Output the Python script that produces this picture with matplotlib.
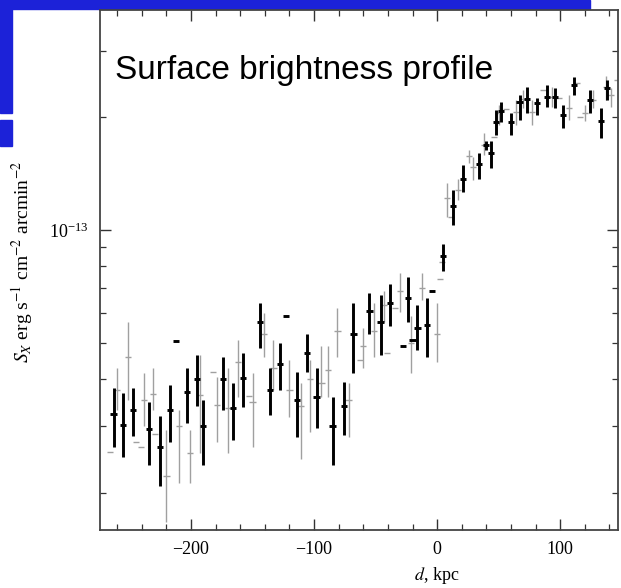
import matplotlib
matplotlib.use('Agg')
import matplotlib.pyplot as plt
import numpy as np
from matplotlib.patches import Rectangle
from matplotlib.ticker import MultipleLocator, FixedLocator, NullFormatter

# perfil de brillo superficial, valores en 1e-14 erg s^-1 cm^-2 arcmin^-2
# serie gruesa (negra)
thick_d = [-263, -255, -247, -234, -225, -217, -212, -203, -195, -190, -174, -166, -158,
           -144, -136, -128, -123, -114, -106, -98, -85, -76, -68, -55, -46, -38, -28,
           -24, -20, -16, -8, -4, 5, 13, 21, 34, 40, 44, 48, 52, 60, 67, 73, 81, 89,
           96, 102, 111, 124, 133, 138]
thick_s = [3.24, 3.03, 3.32, 2.96, 2.65, 3.32, 5.07, 3.7, 4.0, 3.0, 4.0, 3.36, 4.04,
           5.7, 3.75, 4.4, 5.9, 3.53, 4.7, 3.6, 3.0, 3.4, 5.3, 6.1, 5.7, 6.4, 4.9,
           6.6, 5.1, 5.5, 5.6, 6.9, 8.5, 11.6, 13.7, 15.0, 16.8, 16.0, 19.4, 20.7, 19.4,
           21.9, 22.3, 21.8, 22.6, 22.6, 20.2, 24.3, 22.2, 19.5, 23.9]
thick_hi = [3.8, 3.68, 3.8, 3.49, 3.2, 3.87, 5.07, 4.3, 4.65, 3.53, 4.6, 3.92, 4.7,
            6.4, 4.3, 5.0, 5.9, 4.2, 5.3, 4.3, 3.6, 3.94, 6.4, 6.8, 6.7, 7.2, 4.9,
            7.5, 5.1, 6.3, 6.6, 6.9, 9.2, 12.8, 14.9, 16.0, 17.3, 17.3, 20.8, 21.9, 20.5,
            22.9, 24.0, 22.4, 24.3, 23.9, 21.5, 25.5, 23.6, 21.1, 25.1]
thick_lo = [2.65, 2.49, 2.83, 2.37, 2.08, 2.72, 5.07, 3.07, 3.4, 2.37, 3.32, 2.76, 3.38,
            4.85, 3.22, 3.75, 5.9, 2.81, 4.2, 2.97, 2.37, 2.85, 4.17, 5.3, 4.65, 5.56, 4.9,
            5.7, 5.1, 4.8, 4.6, 6.9, 7.8, 10.3, 12.6, 13.7, 16.3, 14.6, 17.9, 19.4, 17.9,
            19.6, 20.5, 20.2, 21.2, 21.1, 18.7, 22.9, 20.5, 17.6, 22.2]

# serie fina (gris)
thin_d = [-266, -260, -251, -245, -241, -238, -231, -229, -220, -210, -201, -193, -182,
          -179, -170, -162, -153, -150, -141, -133, -120, -111, -103, -94, -89, -81, -72,
          -63, -60, -51, -43, -41, -34, -30, -21, -12, 0, 2, 4, 8, 11, 17, 26, 29, 38,
          46, 50, 56, 64, 70, 77, 86, 93, 99, 107, 114, 116, 120, 127, 137, 141, 146]
thin_s = [2.57, 3.75, 4.6, 2.73, 2.65, 3.53, 3.66, 2.87, 2.22, 3.0, 2.55, 3.64, 4.2,
          3.42, 3.36, 4.46, 3.62, 3.49, 5.3, 4.3, 3.75, 3.4, 4.0, 3.92, 4.25, 5.4, 3.53,
          4.5, 4.9, 5.4, 6.3, 4.7, 6.2, 6.9, 5.0, 7.0, 5.3, 7.4, 8.2, 12.2, 10.8, 12.8,
          15.7, 14.7, 16.8, 17.7, 20.5, 21.0, 20.6, 22.3, 20.6, 23.6, 22.6, 22.4, 21.1,
          24.6, 20.0, 20.5, 22.2, 24.0, 22.9, 25.1]
thin_hi = [2.57, 4.3, 5.7, 2.73, 2.65, 4.17, 4.3, 2.87, 2.94, 3.32, 2.94, 4.65, 4.2,
           4.06, 4.3, 5.1, 3.62, 4.17, 6.0, 5.1, 4.5, 3.92, 4.5, 4.9, 4.9, 6.2, 3.92,
           4.5, 5.5, 6.4, 6.9, 4.7, 6.2, 7.7, 5.9, 7.7, 6.4, 7.4, 8.2, 13.3, 10.8, 13.7,
           16.3, 15.6, 18.1, 17.7, 21.5, 21.0, 22.2, 23.6, 22.2, 23.6, 24.0, 22.4, 22.9,
           24.6, 20.0, 21.5, 23.6, 25.7, 23.9, 25.1]
thin_lo = [2.57, 3.32, 3.53, 2.73, 2.65, 3.0, 3.32, 2.87, 1.67, 2.12, 2.12, 2.55, 4.2,
           2.72, 2.55, 3.6, 3.62, 2.65, 4.6, 3.75, 3.18, 2.45, 2.9, 3.6, 3.6, 4.6, 2.81,
           4.5, 4.3, 4.6, 5.7, 4.7, 6.2, 6.05, 4.17, 6.5, 4.46, 7.4, 8.2, 10.8, 10.8, 12.0,
           15.1, 13.6, 15.8, 17.7, 19.0, 21.0, 19.0, 21.1, 19.0, 23.6, 21.2, 22.4, 19.6,
           24.6, 20.0, 19.5, 21.1, 22.2, 21.2, 25.1]

x_ticks = [-200, -100, 0, 100]
unit = 1e-14

plt.rcParams['font.family'] = ['Liberation Serif', 'DejaVu Serif']
plt.rcParams['mathtext.fontset'] = 'stix'

W, H = 621, 588
fig = plt.figure(figsize=(W / 100, H / 100), dpi=100)

# franjas azules del fondo de la diapositiva
azul = '#1c22d8'
fig.add_artist(Rectangle((0, 1 - 9 / H), 590 / W, 9 / H, transform=fig.transFigure,
                         color=azul, zorder=0))
fig.add_artist(Rectangle((0, 1 - 113 / H), 12 / W, 113 / H, transform=fig.transFigure,
                         color=azul, zorder=0))
fig.add_artist(Rectangle((0, 1 - 146 / H), 12 / W, 26 / H, transform=fig.transFigure,
                         color=azul, zorder=0))

ax = fig.add_axes([100 / W, 58 / H, 518 / W, 520 / H])

def plot_serie(d, s, lo, hi, color, lw):
    d = np.array(d)
    s = np.array(s) * unit
    lo = np.array(lo) * unit
    hi = np.array(hi) * unit
    ax.errorbar(d, s, yerr=[s - lo, hi - s], xerr=2.5, fmt='none',
                ecolor=color, elinewidth=lw, capsize=0)

plot_serie(thin_d, thin_s, thin_lo, thin_hi, '#a0a0a0', 1.0)
plot_serie(thick_d, thick_s, thick_lo, thick_hi, 'black', 2.1)

ax.set_yscale('log')
ax.set_xlim(-274, 147)
ax.set_ylim(1.59e-14, 3.85e-13)

ax.xaxis.set_major_locator(FixedLocator(x_ticks))
ax.xaxis.set_minor_locator(MultipleLocator(20))
ax.yaxis.set_major_locator(FixedLocator([1e-13]))
ax.yaxis.set_minor_formatter(NullFormatter())

ax.tick_params(which='both', direction='in', top=True, right=True, color='#333333')
ax.tick_params(which='major', length=8, width=1.0, labelsize=13, pad=8)
ax.tick_params(which='minor', length=4, width=0.9)
for sp in ax.spines.values():
    sp.set_linewidth(1.3)
    sp.set_color('#444444')

ax.text(0.029, 0.867, 'Surface brightness profile', transform=ax.transAxes,
        fontsize=24, family='Liberation Sans', va='baseline', ha='left')

fig.text(22 / W, 1 - 262 / H, r'$S_X$ erg s$^{-1}$ cm$^{-2}$ arcmin$^{-2}$',
         rotation=90, ha='center', va='center', fontsize=14)
fig.text(437 / W, 1 - 576 / H, r'$d$, kpc', ha='center', va='center', fontsize=13)

fig.savefig('out.png', dpi=100)
